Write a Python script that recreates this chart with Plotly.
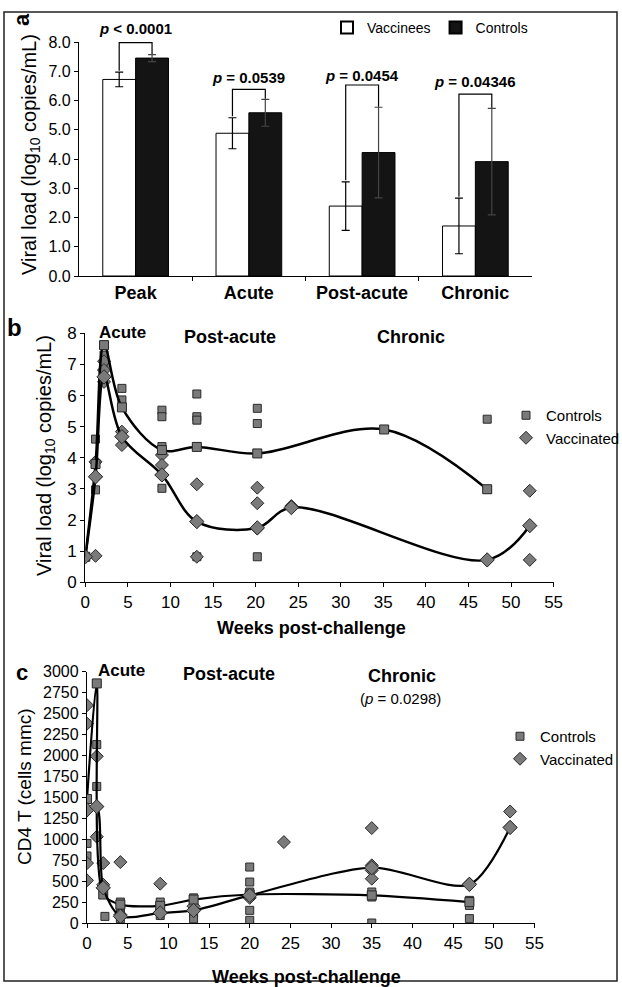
import plotly.graph_objects as go

W, H = 622, 987


def px(x):
    return x / W


def py(y):
    return 1 - y / H


FONT = "Liberation Sans, Arial, sans-serif"

# ---------------- Panel a data ----------------
phases = ["Peak", "Acute", "Post-acute", "Chronic"]
phase_pos = [0, 1, 2, 3]
vacc_mean = [6.72, 4.88, 2.39, 1.71]
vacc_err = [0.25, 0.53, 0.83, 0.95]
ctrl_mean = [7.45, 5.58, 4.22, 3.91]
ctrl_err = [0.12, 0.46, 1.55, 1.82]
p_labels = ["<i>p</i> < 0.0001", "<i>p</i> = 0.0539", "<i>p</i> = 0.0454", "<i>p</i> = 0.04346"]
bracket_y = [7.98, 6.38, 6.53, 6.22]
p_label_y = [8.47, 6.80, 6.87, 6.64]
a_yticks = [0, 1, 2, 3, 4, 5, 6, 7, 8]
A_YMAX = 8

# ---------------- Panel b data (viral load) ----------------
b_ctrl_wk = [0, 1.2, 1.2, 1.2, 2.2, 2.2, 2.2, 4.3, 4.3, 4.3, 9, 9, 9, 9,
             13.1, 13.1, 13.1, 13.1, 13.1, 20.2, 20.2, 20.2, 20.2, 35.1, 47.2, 47.2]
b_ctrl_vl = [0.82, 4.6, 3.8, 2.97, 7.62, 7.3, 6.9, 6.23, 5.86, 5.62, 5.53, 5.32, 4.36, 3.02,
             6.05, 5.32, 5.21, 4.36, 0.82, 5.59, 5.1, 4.14, 0.82, 4.91, 5.24, 2.99]
b_vacc_wk = [0, 1.2, 1.2, 1.2, 2.2, 2.2, 2.2, 4.3, 4.3, 4.3, 9, 9, 9,
             13.1, 13.1, 13.1, 20.2, 20.2, 20.2, 24.2, 47.2, 52.2, 52.2, 52.2]
b_vacc_vl = [0.82, 0.85, 3.39, 3.87, 7.1, 6.82, 6.44, 4.84, 4.68, 4.41, 4.09, 3.77, 3.45,
             3.15, 1.95, 0.82, 3.04, 2.54, 1.73, 2.45, 0.72, 2.94, 1.82, 0.72]
b_ctrl_mean_wk = [0, 1.2, 2.2, 4.3, 9, 13.1, 20.2, 35.1, 47.2]
b_ctrl_mean = [0.82, 3.8, 7.62, 5.62, 4.25, 4.35, 4.14, 4.91, 2.99]
b_vacc_mean_wk = [0, 1.2, 2.2, 4.3, 9, 13.1, 20.2, 24.2, 47.2, 52.2]
b_vacc_mean = [0.82, 3.39, 6.6, 4.68, 3.45, 1.95, 1.75, 2.4, 0.72, 1.82]

# ---------------- Panel c data (CD4 T) ----------------
c_ctrl_wk = [0, 0, 0, 1.2, 1.2, 1.2, 2.0, 2.2, 4.1, 4.1, 4.1, 4.1, 9, 9, 9, 9,
             13.1, 13.1, 13.1, 13.1, 13.1, 20, 20, 20, 20, 20, 35, 35, 35, 47, 47, 47]
c_ctrl_cd4 = [1480, 950, 800, 2860, 2130, 1630, 340, 79, 250, 190, 110, 50, 250, 200, 150, 90,
              300, 250, 190, 120, 50, 668, 489, 370, 151, 32, 370, 310, 0, 270, 210, 52]
c_vacc_wk = [0, 0, 0, 0, 0, 1.2, 1.2, 1.2, 2.0, 2.0, 2.0, 4.1, 4.1, 9, 9, 13.1, 13.1,
             20, 20, 24.2, 35, 35, 35, 35, 47, 52, 52]
c_vacc_cd4 = [2600, 2380, 1350, 715, 509, 1990, 1390, 1030, 715, 457, 417, 727, 100, 469, 130, 200, 150,
              330, 300, 966, 1133, 688, 628, 529, 469, 1331, 1145]
c_ctrl_mean_wk = [0, 1.2, 2.0, 4.1, 9, 13.1, 20, 35, 47]
c_ctrl_mean = [1480, 2860, 340, 220, 205, 280, 340, 330, 250]
c_vacc_mean_wk = [0, 1.2, 2.0, 4.1, 9, 13.1, 20, 35, 47, 52]
c_vacc_mean = [1350, 1390, 420, 80, 120, 150, 330, 660, 460, 1140]

week_ticks = list(range(0, 56, 5))
b_yticks = list(range(0, 9))
c_yticks = list(range(0, 3001, 250))

MK_FILL = "#7a7a7a"
MK_LINE = "#2a2a2a"

# Panel a geometry (pixels)
A_Y0_PX, A_Y1_PX = 276, 42


def a_val_to_paper(v):
    return py(A_Y0_PX - (A_Y0_PX - A_Y1_PX) * v / A_YMAX)


fig = go.Figure()

# ----- Panel a bars -----
fig.add_trace(go.Bar(
    x=phase_pos, y=vacc_mean, name="Vaccinees",
    marker=dict(color="white", line=dict(color="black", width=1)),
    error_y=dict(type="data", array=vacc_err, color="black", thickness=1.2, width=4),
    xaxis="x", yaxis="y", legend="legend", offsetgroup="v",
))
fig.add_trace(go.Bar(
    x=phase_pos, y=ctrl_mean, name="Controls",
    marker=dict(color="#141414", line=dict(color="black", width=1)),
    error_y=dict(type="data", array=ctrl_err, color="#444", thickness=1.2, width=4),
    xaxis="x", yaxis="y", legend="legend", offsetgroup="c",
))

# ----- Panel b -----
fig.add_trace(go.Scatter(
    x=b_ctrl_wk, y=b_ctrl_vl, mode="markers", name="Controls",
    marker=dict(symbol="square", size=8, color=MK_FILL, line=dict(color=MK_LINE, width=1)),
    xaxis="x2", yaxis="y2", legend="legend2",
))
fig.add_trace(go.Scatter(
    x=b_vacc_wk, y=b_vacc_vl, mode="markers", name="Vaccinated",
    marker=dict(symbol="diamond", size=10, color=MK_FILL, line=dict(color=MK_LINE, width=1)),
    xaxis="x2", yaxis="y2", legend="legend2",
))
fig.add_trace(go.Scatter(
    x=b_ctrl_mean_wk, y=b_ctrl_mean, mode="lines+markers", showlegend=False,
    line=dict(color="black", width=2.5, shape="spline", smoothing=1),
    marker=dict(symbol="square", size=9, color=MK_FILL, line=dict(color=MK_LINE, width=1)),
    xaxis="x2", yaxis="y2",
))
fig.add_trace(go.Scatter(
    x=b_vacc_mean_wk, y=b_vacc_mean, mode="lines+markers", showlegend=False,
    line=dict(color="black", width=2.5, shape="spline", smoothing=1),
    marker=dict(symbol="diamond", size=11, color=MK_FILL, line=dict(color=MK_LINE, width=1)),
    xaxis="x2", yaxis="y2",
))

# ----- Panel c -----
fig.add_trace(go.Scatter(
    x=c_ctrl_wk, y=c_ctrl_cd4, mode="markers", name="Controls",
    marker=dict(symbol="square", size=8, color=MK_FILL, line=dict(color=MK_LINE, width=1)),
    xaxis="x3", yaxis="y3", legend="legend3",
))
fig.add_trace(go.Scatter(
    x=c_vacc_wk, y=c_vacc_cd4, mode="markers", name="Vaccinated",
    marker=dict(symbol="diamond", size=10, color=MK_FILL, line=dict(color=MK_LINE, width=1)),
    xaxis="x3", yaxis="y3", legend="legend3",
))
fig.add_trace(go.Scatter(
    x=c_ctrl_mean_wk, y=c_ctrl_mean, mode="lines+markers", showlegend=False,
    line=dict(color="black", width=2.2, shape="spline", smoothing=0.8),
    marker=dict(symbol="square", size=9, color=MK_FILL, line=dict(color=MK_LINE, width=1)),
    xaxis="x3", yaxis="y3",
))
fig.add_trace(go.Scatter(
    x=c_vacc_mean_wk, y=c_vacc_mean, mode="lines+markers", showlegend=False,
    line=dict(color="black", width=2.2, shape="spline", smoothing=0.8),
    marker=dict(symbol="diamond", size=11, color=MK_FILL, line=dict(color=MK_LINE, width=1)),
    xaxis="x3", yaxis="y3",
))

# ----- brackets for p-values -----
shapes = []
annotations = []
off = 0.145
for i, pos in enumerate(phase_pos):
    xl, xr = pos - off, pos + off
    yl = vacc_mean[i] + vacc_err[i] + 0.05
    yr = ctrl_mean[i] + ctrl_err[i] + 0.02
    yb = bracket_y[i]
    shapes.append(dict(type="path", xref="x", yref="y",
                       path=f"M{xl},{yl} L{xl},{yb} L{xr},{yb} L{xr},{yr}",
                       line=dict(color="black", width=1.2), layer="above"))
    annotations.append(dict(x=pos, y=a_val_to_paper(p_label_y[i]), xref="x", yref="paper",
                            yanchor="middle", text=f"<b>{p_labels[i]}</b>",
                            showarrow=False, font=dict(size=15, family=FONT, color="black")))

# Outer frame
shapes.append(dict(type="rect", xref="paper", yref="paper",
                   x0=px(4), x1=px(617), y0=py(981), y1=py(12),
                   line=dict(color="#222", width=1.5)))


def ann(x, y, text, size=15, angle=0, xanchor="center", bold=False):
    t = f"<b>{text}</b>" if bold else text
    annotations.append(dict(x=px(x), y=py(y), xref="paper", yref="paper", text=t,
                            showarrow=False, textangle=angle, xanchor=xanchor, yanchor="middle",
                            font=dict(size=size, family=FONT, color="black")))


# panel letters
ann(22, 20, "a", size=22, angle=-90, bold=True)
ann(14, 327, "b", size=24, bold=True)
ann(22, 672, "c", size=22, bold=True)

# axis titles
ann(31, 155, "Viral load (log<sub>10</sub> copies/mL)", size=20, angle=-90)
ann(45, 456, "Viral load (log<sub>10</sub> copies/mL)", size=20, angle=-90)
ann(24, 787, "CD4 T (cells mmc)", size=19, angle=-90)
ann(311, 628, "Weeks post-challenge", size=18, bold=True)
ann(306, 977, "Weeks post-challenge", size=18, bold=True)

# phase labels panel b and c
ann(122, 333, "Acute", size=17, bold=True)
ann(230, 337, "Post-acute", size=18, bold=True)
ann(411, 337, "Chronic", size=18, bold=True)
ann(121, 670, "Acute", size=17, bold=True)
ann(229, 674, "Post-acute", size=18, bold=True)
ann(402, 676, "Chronic", size=18, bold=True)
ann(400, 698, "(<i>p</i> = 0.0298)", size=15)

axis_common = dict(showline=True, linecolor="black", linewidth=1.3, ticks="outside", ticklen=4,
                   tickcolor="black", showgrid=False, zeroline=False, automargin=False)
tick17 = dict(size=17, family=FONT, color="black")
tick16 = dict(size=16, family=FONT, color="black")

fig.update_layout(
    width=W, height=H,
    margin=dict(l=0, r=0, t=0, b=0, pad=0, autoexpand=False),
    paper_bgcolor="white", plot_bgcolor="white",
    font=dict(family=FONT, color="black"),
    barmode="group", bargap=0.42, bargroupgap=0,
    shapes=shapes, annotations=annotations,
    xaxis=dict(domain=[px(79), px(532)], range=[-0.5, 3.5], anchor="y",
               tickvals=phase_pos, ticktext=[f"<b>{p}</b>" for p in phases],
               showline=True, linecolor="black", linewidth=1.3, ticks="",
               showgrid=False, zeroline=False, automargin=False,
               tickfont=dict(size=18, family=FONT, color="black"),
               minor=dict(tickvals=[0.5, 1.5, 2.5], ticks="outside", ticklen=4, tickcolor="black")),
    yaxis=dict(domain=[py(A_Y0_PX), py(A_Y1_PX)], range=[0, A_YMAX], anchor="x",
               tickvals=a_yticks, tickformat=".1f", tickfont=tick16, **axis_common),
    xaxis2=dict(domain=[px(85.3), px(553.6)], range=[0, 55], anchor="y2", tickvals=week_ticks,
                tickfont=tick17, **axis_common),
    yaxis2=dict(domain=[py(582.3), py(333.3)], range=[0, 8], anchor="x2", tickvals=b_yticks,
                tickfont=tick17, **axis_common),
    xaxis3=dict(domain=[px(87), px(534.5)], range=[0, 55], anchor="y3", tickvals=week_ticks,
                tickfont=tick17, **axis_common),
    yaxis3=dict(domain=[py(923), py(671.7)], range=[0, 3000], anchor="x3", tickvals=c_yticks,
                tickfont=tick16, **axis_common),
    legend=dict(x=px(327), y=py(12), xanchor="left", yanchor="top", orientation="h",
                font=dict(size=14, family=FONT), itemwidth=30, bgcolor="rgba(0,0,0,0)",
                tracegroupgap=0, itemsizing="constant"),
    legend2=dict(x=px(506), y=py(399), xanchor="left", yanchor="top",
                 font=dict(size=15, family=FONT), itemwidth=30, bgcolor="rgba(0,0,0,0)"),
    legend3=dict(x=px(500), y=py(720), xanchor="left", yanchor="top",
                 font=dict(size=15, family=FONT), itemwidth=30, bgcolor="rgba(0,0,0,0)"),
)

fig.write_html(
    "out.html",
    config={"displayModeBar": False},
    post_script="document.body.style.margin='0';document.body.style.overflow='hidden';",
)
